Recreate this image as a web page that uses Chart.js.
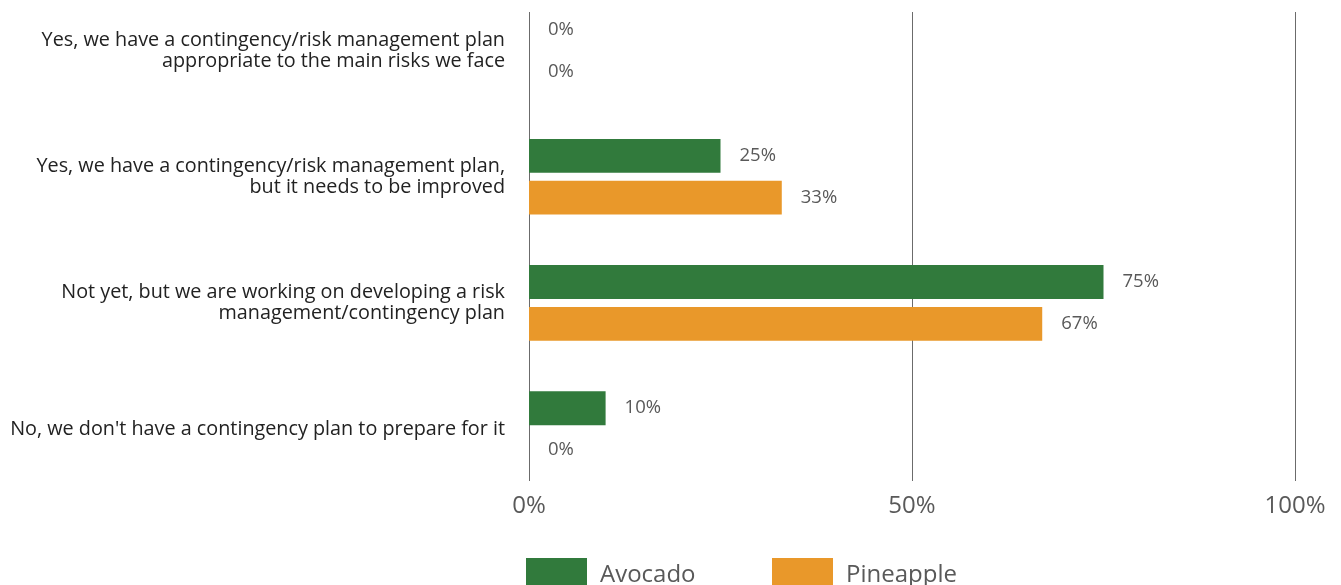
<!DOCTYPE html>
<html>
<head>
<meta charset="utf-8">
<script src="https://cdn.jsdelivr.net/npm/chart.js@4"></script>
<style>
  html, body { margin: 0; padding: 0; background: #fff; }
  #wrap { position: relative; width: 1341px; height: 585px; overflow: hidden; }
  #wrap canvas { position: absolute; left: 0; top: -47px; }
  #legend { position: absolute; left: 526px; top: 556px; display: flex; font-family: "Open Sans", sans-serif; font-size: 24px; color: #595959; }
  .item { display: flex; align-items: center; }
  .box { width: 61px; height: 30px; margin-right: 13px; }
</style>
</head>
<body>
<div id="wrap">
  <canvas id="grafico" width="1341" height="632"></canvas>
  <div id="legend"></div>
</div>
<script>
const categorias = [
    ["Yes, we have a contingency/risk management plan", "appropriate to the main risks we face"],
    ["Yes, we have a contingency/risk management plan,", "but it needs to be improved"],
    ["Not yet, but we are working on developing a risk", "management/contingency plan"],
    ["No, we don't have a contingency plan to prepare for it"]
];
const avocado = [0, 25, 75, 10];
const pineapple = [0, 33, 67, 0];
const ticksX = [0, 50, 100];

const verde = "#317a3c";
const naranja = "#e9982a";
const gris = "#6b6b6b";
const desplazamiento = 47; // el canvas sube este numero de pixeles

// etiquetas de valor a la derecha de cada barra
const etiquetas = {
    id: "etiquetas",
    afterDatasetsDraw(chart) {
        const ctx = chart.ctx;
        ctx.save();
        ctx.font = "18.5px 'Open Sans', sans-serif";
        ctx.fillStyle = "#595959";
        ctx.textAlign = "left";
        ctx.textBaseline = "middle";
        chart.data.datasets.forEach((ds, i) => {
            chart.getDatasetMeta(i).data.forEach((bar, j) => {
                ctx.fillText(ds.data[j] + "%", bar.x + 19, bar.y);
            });
        });
        ctx.restore();
    }
};

// lineas verticales de la rejilla (no cubren todo el alto del area)
const rejilla = {
    id: "rejilla",
    beforeDatasetsDraw(chart) {
        const ctx = chart.ctx;
        const x = chart.scales.x;
        ctx.save();
        ctx.strokeStyle = gris;
        ctx.lineWidth = 1;
        ticksX.forEach(v => {
            const px = Math.round(x.getPixelForValue(v)) + 0.5;
            ctx.beginPath();
            ctx.moveTo(px, 12 + desplazamiento);
            ctx.lineTo(px, 481 + desplazamiento);
            ctx.stroke();
        });
        ctx.restore();
    }
};

const ctx = document.getElementById("grafico").getContext("2d");
const chart = new Chart(ctx, {
    type: "bar",
    data: {
        labels: categorias,
        datasets: [
            { label: "Avocado", data: avocado, backgroundColor: verde, barPercentage: 0.81, categoryPercentage: 0.663 },
            { label: "Pineapple", data: pineapple, backgroundColor: naranja, barPercentage: 0.81, categoryPercentage: 0.663 }
        ]
    },
    options: {
        indexAxis: "y",
        responsive: false,
        animation: false,
        layout: { padding: { top: 0, right: 46, bottom: 64, left: 0 } },
        plugins: {
            legend: { display: false },
            tooltip: { enabled: false }
        },
        scales: {
            x: {
                min: 0,
                max: 100,
                afterBuildTicks: (scale) => { scale.ticks = ticksX.map(v => ({ value: v })); },
                grid: { display: false, drawTicks: false },
                border: { display: false },
                ticks: {
                    padding: 0,
                    color: "#595959",
                    font: { family: "'Open Sans', sans-serif", size: 24 },
                    callback: (v) => v + "%"
                }
            },
            y: {
                afterFit: (scale) => { scale.width = 529; },
                grid: { display: false, drawTicks: false },
                border: { display: false },
                ticks: {
                    padding: 24,
                    color: "#222",
                    font: { family: "'Open Sans', sans-serif", size: 19.8, lineHeight: 1.06 }
                }
            }
        }
    },
    plugins: [rejilla, etiquetas]
});

// leyenda en HTML
const leyenda = document.getElementById("legend");
chart.data.datasets.forEach((ds, i) => {
    const item = document.createElement("div");
    item.className = "item";
    item.style.width = i === 0 ? "246px" : "auto";
    item.innerHTML = '<div class="box" style="background:' + ds.backgroundColor + '"></div><span>' + ds.label + '</span>';
    leyenda.appendChild(item);
});
</script>
</body>
</html>
